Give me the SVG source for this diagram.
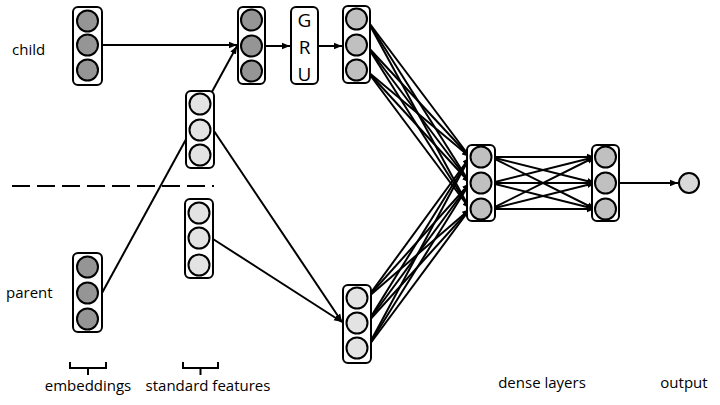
<svg xmlns="http://www.w3.org/2000/svg" width="720" height="405" viewBox="0 0 720 405">
<defs>
<marker id="ah" markerUnits="userSpaceOnUse" markerWidth="9" markerHeight="8" refX="8" refY="4" orient="auto">
<path d="M0,0.8 L8,4 L0,7.2 Z" fill="#000"/>
</marker>
<style>
.box{fill:#fff;stroke:#000;stroke-width:2}
.c{stroke:#000;stroke-width:2}
.dk{fill:#959595}
.md{fill:#c0c0c0}
.lt{fill:#e3e3e3}
.ln{stroke:#000;stroke-width:2;fill:none}
.ar{stroke:#000;stroke-width:2;fill:none;marker-end:url(#ah)}
.t{font-family:"Open Sans","Liberation Sans",Arial,sans-serif;font-size:15px;fill:#000}
.g{font-family:"Open Sans","Liberation Sans",Arial,sans-serif;font-size:19px;fill:#000}
</style>
</defs>
<rect width="720" height="405" fill="#fff"/>

<g id="connectors">
<line class="ar" x1="102" y1="45" x2="237" y2="45"/>
<line class="ar" x1="102" y1="293" x2="237" y2="46"/>
<line class="ar" x1="265" y1="46" x2="290" y2="46"/>
<line class="ar" x1="318" y1="46" x2="342" y2="46"/>
<line class="ar" x1="214" y1="131" x2="342" y2="322"/>
<line class="ar" x1="213" y1="239" x2="342" y2="322"/>
<g>
<line class="ar" x1="367" y1="20" x2="470" y2="157"/>
<line class="ar" x1="367" y1="20" x2="470" y2="183"/>
<line class="ar" x1="367" y1="20" x2="470" y2="209"/>
<line class="ar" x1="367" y1="46" x2="470" y2="157"/>
<line class="ar" x1="367" y1="46" x2="470" y2="183"/>
<line class="ar" x1="367" y1="46" x2="470" y2="209"/>
<line class="ar" x1="367" y1="71" x2="470" y2="157"/>
<line class="ar" x1="367" y1="71" x2="470" y2="183"/>
<line class="ar" x1="367" y1="71" x2="470" y2="209"/>
</g>
<g>
<line class="ar" x1="367" y1="298" x2="470" y2="157"/>
<line class="ar" x1="367" y1="298" x2="470" y2="183"/>
<line class="ar" x1="367" y1="298" x2="470" y2="209"/>
<line class="ar" x1="367" y1="323" x2="470" y2="157"/>
<line class="ar" x1="367" y1="323" x2="470" y2="183"/>
<line class="ar" x1="367" y1="323" x2="470" y2="209"/>
<line class="ar" x1="367" y1="348" x2="470" y2="157"/>
<line class="ar" x1="367" y1="348" x2="470" y2="183"/>
<line class="ar" x1="367" y1="348" x2="470" y2="209"/>
</g>
<g>
<line class="ar" x1="491" y1="157" x2="595" y2="157"/>
<line class="ar" x1="491" y1="157" x2="595" y2="183"/>
<line class="ar" x1="491" y1="157" x2="595" y2="209"/>
<line class="ar" x1="491" y1="183" x2="595" y2="157"/>
<line class="ar" x1="491" y1="183" x2="595" y2="183"/>
<line class="ar" x1="491" y1="183" x2="595" y2="209"/>
<line class="ar" x1="491" y1="209" x2="595" y2="157"/>
<line class="ar" x1="491" y1="209" x2="595" y2="183"/>
<line class="ar" x1="491" y1="209" x2="595" y2="209"/>
</g>
<line class="ar" x1="619" y1="183" x2="678" y2="183"/>
</g>

<g id="child-embedding">
<rect class="box" x="73" y="7" width="29" height="78" rx="5"/>
<circle class="c dk" cx="87.5" cy="21" r="10.5"/>
<circle class="c dk" cx="87.5" cy="45" r="10.5"/>
<circle class="c dk" cx="87.5" cy="70" r="10.5"/>
</g>
<g id="child-concat">
<rect class="box" x="238" y="7" width="27" height="77" rx="5"/>
<circle class="c dk" cx="251.5" cy="20" r="10.5"/>
<circle class="c dk" cx="251.5" cy="46" r="10.5"/>
<circle class="c dk" cx="251.5" cy="71" r="10.5"/>
</g>
<g id="gru">
<rect class="box" x="291" y="7" width="27" height="77" rx="5"/>
<text class="g" x="304.5" y="27" text-anchor="middle">G</text>
<text class="g" x="304.5" y="54" text-anchor="middle">R</text>
<text class="g" x="304.5" y="81" text-anchor="middle">U</text>
</g>
<g id="child-out">
<rect class="box" x="343" y="6" width="27" height="77" rx="5"/>
<circle class="c md" cx="356.5" cy="19" r="10.5"/>
<circle class="c md" cx="356.5" cy="45" r="10.5"/>
<circle class="c md" cx="356.5" cy="70" r="10.5"/>
</g>
<g id="child-standard">
<rect class="box" x="186" y="91" width="28" height="77" rx="5"/>
<circle class="c lt" cx="200" cy="104" r="10.5"/>
<circle class="c lt" cx="200" cy="130" r="10.5"/>
<circle class="c lt" cx="200" cy="155" r="10.5"/>
</g>
<g id="parent-standard">
<rect class="box" x="185" y="199" width="28" height="79" rx="5"/>
<circle class="c lt" cx="199" cy="213" r="10.5"/>
<circle class="c lt" cx="199" cy="238" r="10.5"/>
<circle class="c lt" cx="199" cy="265" r="10.5"/>
</g>
<g id="parent-embedding">
<rect class="box" x="73" y="253" width="29" height="79" rx="5"/>
<circle class="c dk" cx="87.5" cy="267" r="10.5"/>
<circle class="c dk" cx="87.5" cy="293" r="10.5"/>
<circle class="c dk" cx="87.5" cy="319" r="10.5"/>
</g>
<g id="parent-out">
<rect class="box" x="343" y="285" width="28" height="78" rx="5"/>
<circle class="c lt" cx="357" cy="298" r="10.5"/>
<circle class="c lt" cx="357" cy="323" r="10.5"/>
<circle class="c lt" cx="357" cy="348" r="10.5"/>
</g>
<g id="dense1">
<rect class="box" x="467" y="145" width="28" height="76" rx="5"/>
<circle class="c md" cx="481" cy="157" r="10.5"/>
<circle class="c md" cx="481" cy="183" r="10.5"/>
<circle class="c md" cx="481" cy="209" r="10.5"/>
</g>
<g id="dense2">
<rect class="box" x="592" y="145" width="27" height="76" rx="5"/>
<circle class="c md" cx="605.5" cy="157" r="10.5"/>
<circle class="c md" cx="605.5" cy="183" r="10.5"/>
<circle class="c md" cx="605.5" cy="209" r="10.5"/>
</g>
<g id="output">
<circle class="c" cx="689" cy="183" r="10" fill="#d9d9d9"/>
</g>

<g id="divider">
<line x1="12" y1="186" x2="214" y2="186" stroke="#000" stroke-width="2" stroke-dasharray="18,7"/>
</g>

<g id="labels">
<text class="t" x="12" y="55">child</text>
<text class="t" x="6" y="298">parent</text>
<path class="ln" d="M70,362 V368 H106 V362 M88,368 V375"/>
<path class="ln" d="M183,362 V368 H218 V362 M200.5,368 V375"/>
<text class="t" x="88" y="391" text-anchor="middle">embeddings</text>
<text class="t" x="208" y="391" text-anchor="middle">standard features</text>
<text class="t" x="542" y="388" text-anchor="middle">dense layers</text>
<text class="t" x="684" y="388" text-anchor="middle">output</text>
</g>
</svg>
